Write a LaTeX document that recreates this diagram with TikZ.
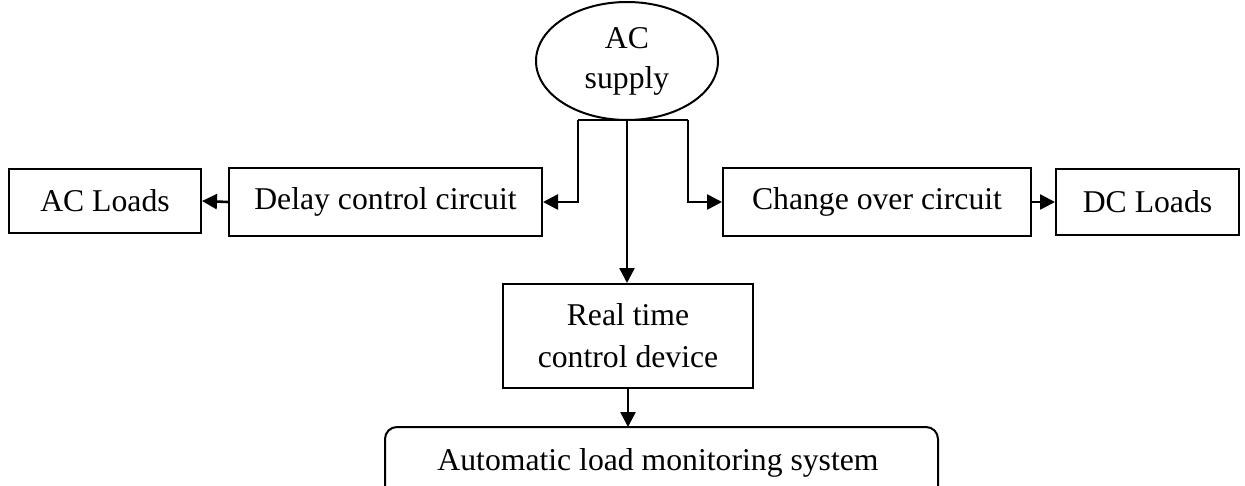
\documentclass[tikz,border=0pt]{standalone}
\usepackage{fontspec}
\setmainfont{Liberation Serif}
\usetikzlibrary{arrows.meta,shapes.geometric}
\begin{document}
\begin{tikzpicture}[x=1pt,y=-1pt,
  box/.style={draw,line width=2pt,inner sep=0pt,anchor=north west,align=center,
    font=\fontsize{31.7}{42}\selectfont},
  txt/.style={inner sep=0pt,align=center,font=\fontsize{31.7}{42}\selectfont},
  conn/.style={line width=2.6pt,-{Triangle[length=15pt,width=15pt]}},
  plain/.style={line width=2.6pt}]
\useasboundingbox (0,0) rectangle (1245,485);
\node[box,draw,ellipse,anchor=center,minimum width=182pt,minimum height=118pt,
  font=\fontsize{31.7}{40}\selectfont] (ac) at (627,61) {AC\\supply};
\node[box,minimum width=192pt,minimum height=64pt] (acl) at (8,168) {AC Loads};
\node[box,minimum width=313pt,minimum height=68pt] (dcc) at (228,167) {Delay control circuit};
\node[box,minimum width=308pt,minimum height=68pt] (coc) at (722,167) {Change over circuit};
\node[box,minimum width=183pt,minimum height=66pt] (dcl) at (1055,168) {DC Loads};
\node[box,minimum width=250pt,minimum height=104pt] (rtc) at (502,283) {Real time\\control device};
\coordinate (bl) at (385,490);
\coordinate (br) at (938,490);
\coordinate (btop) at (627,427);
\draw[line width=2pt,rounded corners=12pt] (bl) -- (bl |- btop) -- (br |- btop) -- (br);
\node[txt] (alms) at (658,463) {Automatic load monitoring system};
\coordinate (jl) at (578,120);
\coordinate (jr) at (688,120);
\draw[plain] (jl) -- (jr);
\draw[conn] (jl) -- (jl |- dcc.east) -- (dcc.east);
\draw[conn] (jr) -- (jr |- coc.west) -- (coc.west);
\draw[conn] (ac.south) -- (ac.south |- rtc.north);
\draw[conn] (dcc.west) -- (acl.east);
\draw[conn] (coc.east) -- (dcl.west);
\draw[conn] (rtc.south) -- (rtc.south |- btop);
\end{tikzpicture}
\end{document}
